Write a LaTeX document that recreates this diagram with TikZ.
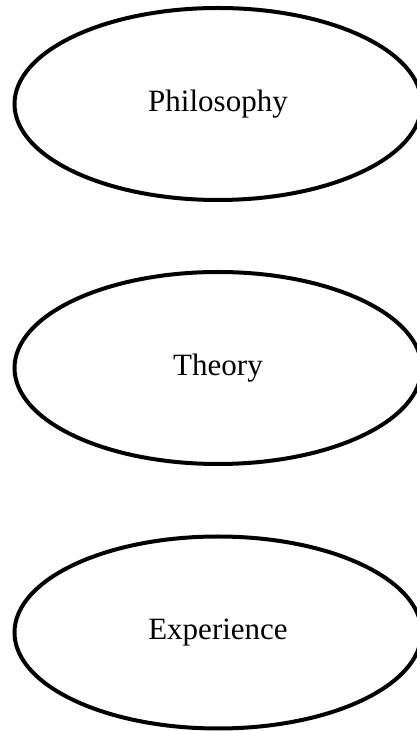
\documentclass[tikz,border=0pt]{standalone}
\usepackage{fontspec}
\setmainfont{Liberation Serif}
\usetikzlibrary{shapes.geometric}
\begin{document}
\begin{tikzpicture}[x=1pt,y=1pt,
  oval/.style={draw=black, line width=4pt, ellipse, inner sep=0pt,
    minimum width=407pt, minimum height=192pt,
    font=\fontsize{31}{36}\selectfont}]
\useasboundingbox (0,0) rectangle (416,731);
\node[oval] (philosophy) at (218,627) {Philosophy};
\node[oval] (theory) at (218,363) {Theory};
\node[oval] (experience) at (218,98.5) {Experience};
\end{tikzpicture}
\end{document}
